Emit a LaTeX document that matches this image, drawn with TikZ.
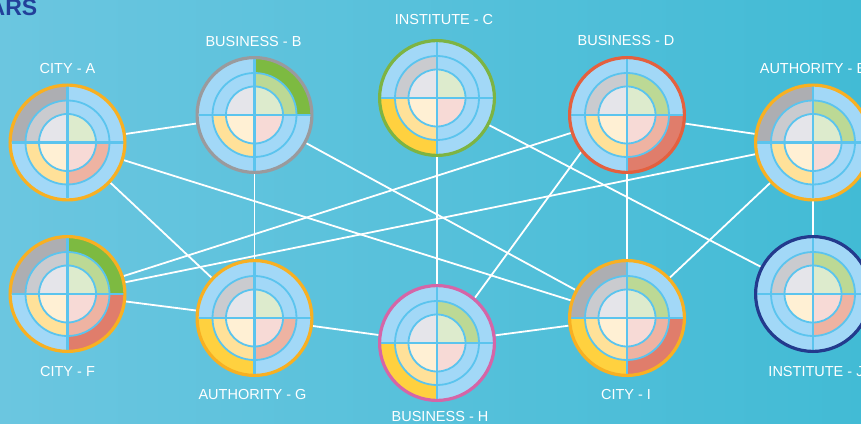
\documentclass[tikz,border=0pt]{standalone}
\usepackage{fontspec}
\setmainfont{Liberation Sans}
\definecolor{bgL}{HTML}{6BC6E0}
\definecolor{bgR}{HTML}{42BBD5}
\definecolor{lblue}{HTML}{A2D8F7}
\definecolor{divc}{HTML}{5BC4EE}
\definecolor{gryA}{HTML}{E5E5EA}\definecolor{gryB}{HTML}{CACBCF}\definecolor{gryC}{HTML}{ADAEB2}
\definecolor{grnA}{HTML}{DDEBCD}\definecolor{grnB}{HTML}{BCD995}\definecolor{grnC}{HTML}{7DBA41}
\definecolor{redA}{HTML}{F7DAD6}\definecolor{redB}{HTML}{EEB3A2}\definecolor{redC}{HTML}{E07D6B}
\definecolor{ylwA}{HTML}{FFF0D4}\definecolor{ylwB}{HTML}{FFE199}\definecolor{ylwC}{HTML}{FFD13F}
\definecolor{bOrange}{HTML}{F8B022}
\definecolor{bGray}{HTML}{9A9A9D}
\definecolor{bGreen}{HTML}{7DB443}
\definecolor{bRed}{HTML}{E4603E}
\definecolor{bPink}{HTML}{D565A7}
\definecolor{bNavy}{HTML}{233A8D}
\definecolor{titlec}{HTML}{22409A}
\newcommand\qsec[3]{%
  \fill[#3A] (0,0) -- (#1:28.5pt) arc[start angle=#1, delta angle=90, radius=28.5pt] -- cycle;
  \ifnum#2>1 \fill[#3B] (#1:28.5pt) arc[start angle=#1, delta angle=90, radius=28.5pt] -- ({#1+90}:42pt) arc[start angle={#1+90}, delta angle=-90, radius=42pt] -- cycle;\fi
  \ifnum#2>2 \fill[#3C] (#1:42pt) arc[start angle=#1, delta angle=90, radius=42pt] -- ({#1+90}:57.5pt) arc[start angle={#1+90}, delta angle=-90, radius=57.5pt] -- cycle;\fi}
\newcommand\wheel[6]{%
  \begin{scope}[shift={(#1.center)}]
    \fill[lblue] (0,0) circle[radius=57.5pt];
    \qsec{90}{#3}{gry}\qsec{0}{#4}{grn}\qsec{270}{#5}{red}\qsec{180}{#6}{ylw}
    \draw[divc, line width=1.8pt] (0,0) circle[radius=28.5pt] (0,0) circle[radius=42pt];
    \draw[divc, line width=2.2pt] (-56pt,0) -- (56pt,0) (0,-56pt) -- (0,56pt);
    \draw[#2, line width=3.2pt] (0,0) circle[radius=57.4pt];
  \end{scope}}
\begin{document}
\begin{tikzpicture}[x=1pt, y=1pt,
  hub/.style={circle, minimum size=118pt, inner sep=0pt, outer sep=0pt},
  lbl/.style={text=white, font=\fontsize{14.5}{16}\selectfont, anchor=base, inner sep=0pt},
  link/.style={white, line width=1.8pt}]
\useasboundingbox (0,0) rectangle (861,423);
\shade[left color=bgL, right color=bgR] (0,0) rectangle (861,423);
\node[anchor=base east, text=titlec, font=\bfseries\fontsize{23}{26}\selectfont, inner sep=0pt] (title) at (37.5,407.5) {ARS};
\node[hub] (A) at (67.5,280.5) {};
\node[hub] (B) at (254.5,308) {};
\node[hub] (C) at (437,325) {};
\node[hub] (D) at (627,308) {};
\node[hub] (E) at (813,280.5) {};
\node[hub] (F) at (67.5,129) {};
\node[hub] (G) at (254.5,105) {};
\node[hub] (H) at (437,80) {};
\node[hub] (I) at (627,105) {};
\node[hub] (J) at (813,129) {};
\draw[link] (A) -- (B);
\draw[link] (A) -- (G);
\draw[link] (A) -- (I);
\draw[link] (B) -- (G);
\draw[link] (B) -- (I);
\draw[link] (C) -- (H);
\draw[link] (C) -- (J);
\draw[link] (D) -- (E);
\draw[link] (D) -- (I);
\draw[link] (D.219) -- (H.50);
\draw[link] (E) -- (I);
\draw[link] (E) -- (J);
\draw[link] (F) -- (D);
\draw[link] (F) -- (E);
\draw[link] (F) -- (G);
\draw[link] (G) -- (H);
\draw[link] (H) -- (I);
\wheel{A}{bOrange}{3}{1}{2}{2}
\wheel{B}{bGray}{1}{3}{1}{2}
\wheel{C}{bGreen}{2}{1}{1}{3}
\wheel{D}{bRed}{2}{2}{3}{2}
\wheel{E}{bOrange}{3}{2}{1}{2}
\wheel{F}{bOrange}{3}{3}{3}{2}
\wheel{G}{bOrange}{2}{1}{2}{3}
\wheel{H}{bPink}{1}{2}{1}{3}
\wheel{I}{bOrange}{3}{2}{3}{3}
\wheel{J}{bNavy}{2}{2}{2}{1}
\node[lbl] (lA) at (67.5,349) {CITY - A};
\node[lbl] (lB) at (253.5,376.5) {BUSINESS - B};
\node[lbl] (lC) at (444,398) {INSTITUTE - C};
\node[lbl] (lD) at (626,377) {BUSINESS - D};
\node[lbl] (lE) at (813,349) {AUTHORITY - E};
\node[lbl] (lF) at (67.5,47) {CITY - F};
\node[lbl] (lG) at (252.5,24) {AUTHORITY - G};
\node[lbl] (lH) at (440,2) {BUSINESS - H};
\node[lbl] (lI) at (626,24) {CITY - I};
\node[lbl] (lJ) at (816,47) {INSTITUTE - J};
\end{tikzpicture}
\end{document}
